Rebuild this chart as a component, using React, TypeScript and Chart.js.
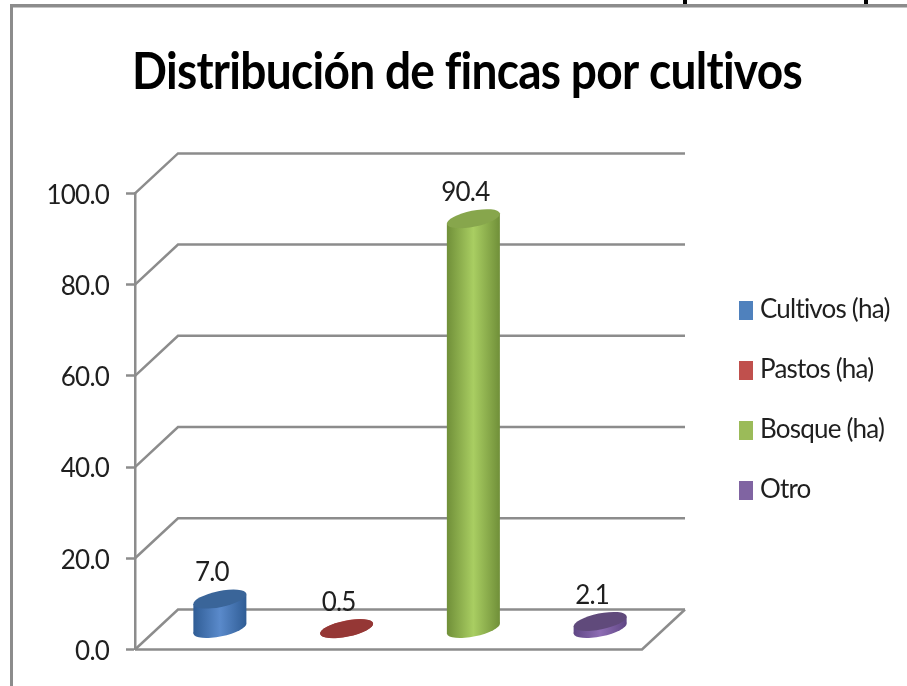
import React, { useEffect, useRef } from "react";
import { Chart, registerables } from "chart.js";

Chart.register(...registerables);

const titleText = "Distribución de fincas por cultivos";
const categoryLabels = [""];
const seriesNames = ["Cultivos (ha)", "Pastos (ha)", "Bosque (ha)", "Otro"];
const cultivos = [7.0];
const pastos = [0.5];
const bosque = [90.4];
const otro = [2.1];
const seriesValues = [cultivos, pastos, bosque, otro];
const legendColors = ["#4F81BD", "#C0504D", "#9BBB59", "#8064A2"];
const edgeColors = ["#2F5C94", "#8E3330", "#6F8E38", "#5F4684"];
const midColors = ["#5A8ACB", "#C0504D", "#A9CE62", "#8E6DB4"];
const capColors = ["#3A6599", "#953735", "#87A64C", "#604A7B"];

const FONT = "Lato, 'Liberation Sans', sans-serif";
const TEXT_SIZE = 26;
const GRAY = "#8C8C8C";
const DEPTH_X = 43;
const DEPTH_Y = 40;
const RX = 27;
const RY = 8;
const ROT = -0.2;

function ellipse(ctx: CanvasRenderingContext2D, x: number, y: number) {
  ctx.beginPath();
  ctx.ellipse(x, y, RX, RY, ROT, 0, Math.PI * 2);
  ctx.fill();
}

const scene = {
  id: "scene",
  beforeDraw(chart: any) {
    const { ctx, width, height } = chart;
    ctx.save();
    ctx.fillStyle = "#fff";
    ctx.fillRect(0, 0, width, height);
    ctx.fillStyle = GRAY;
    ctx.fillRect(10, 4, width - 10, 3.5);
    ctx.fillRect(10, 4, 3, height - 4);
    ctx.fillStyle = "#000";
    ctx.fillRect(683, 0, 4, 4);
    ctx.fillRect(864, 0, 4, 4);
    ctx.restore();
    ctx.letterSpacing = "-0.8px";
  },
  afterLayout(chart: any) {
    const t = chart.titleBlock;
    t.left = 132;
    t.right = 802;
    const l = chart.legend;
    const p = l.options.labels.padding;
    l.left = 745 - p;
    l.right = 930;
    l.top = 297 - p;
    l.bottom = 560;
  },
  beforeDatasetsDraw(chart: any) {
    const { ctx, chartArea, scales } = chart;
    const yS = scales.y;
    ctx.save();
    ctx.strokeStyle = GRAY;
    ctx.lineWidth = 2.5;
    yS.ticks.forEach((t: any, i: number) => {
      const y = yS.getPixelForTick(i);
      ctx.beginPath();
      ctx.moveTo(chartArea.left, y);
      ctx.lineTo(chartArea.left + DEPTH_X, y - DEPTH_Y);
      ctx.lineTo(chartArea.right + DEPTH_X, y - DEPTH_Y);
      ctx.stroke();
    });
    ctx.beginPath();
    ctx.moveTo(chartArea.left, chartArea.bottom);
    ctx.lineTo(chartArea.right, chartArea.bottom);
    ctx.lineTo(chartArea.right + DEPTH_X, chartArea.bottom - DEPTH_Y);
    ctx.stroke();
    ctx.restore();
  },
  beforeDatasetDraw(chart: any, args: any) {
    const { ctx } = chart;
    const i = args.index;
    const el = args.meta.data[0];
    const cx = el.x + DEPTH_X / 2;
    const baseY = el.base - 20.5;
    const topY = el.y - 18.5;
    const g = ctx.createLinearGradient(cx - RX, 0, cx + RX, 0);
    g.addColorStop(0, edgeColors[i]);
    g.addColorStop(0.5, midColors[i]);
    g.addColorStop(1, edgeColors[i]);
    const tx = Math.hypot(RX * Math.cos(ROT), RY * Math.sin(ROT));
    const t = Math.atan2(-RY * Math.sin(ROT), RX * Math.cos(ROT));
    const ty = RX * Math.cos(t) * Math.sin(ROT) + RY * Math.sin(t) * Math.cos(ROT);
    ctx.save();
    ctx.fillStyle = g;
    ellipse(ctx, cx, baseY);
    ctx.beginPath();
    ctx.moveTo(cx + tx, topY + ty);
    ctx.lineTo(cx + tx, baseY + ty);
    ctx.lineTo(cx - tx, baseY - ty);
    ctx.lineTo(cx - tx, topY - ty);
    ctx.closePath();
    ctx.fill();
    ctx.fillStyle = capColors[i];
    ellipse(ctx, cx, topY);
    ctx.fillStyle = "#1f1f1f";
    ctx.font = `${TEXT_SIZE}px ${FONT}`;
    ctx.textAlign = "center";
    ctx.textBaseline = "middle";
    ctx.fillText(seriesValues[i][0].toFixed(1), cx - 8, topY - 26);
    ctx.restore();
    return false;
  },
};

export default function App() {
  const ref = useRef<HTMLCanvasElement>(null);
  useEffect(() => {
    const chart = new Chart(ref.current as HTMLCanvasElement, {
      type: "bar",
      data: {
        labels: categoryLabels,
        datasets: seriesNames.map((name, i) => ({
          label: name,
          data: seriesValues[i],
          backgroundColor: legendColors[i],
          barPercentage: 1,
          categoryPercentage: 1,
        })),
      },
      options: {
        responsive: false,
        animation: false,
        layout: { padding: { left: 0, top: 0, right: 265, bottom: 36.5 } },
        scales: {
          x: { display: false },
          y: {
            min: 0,
            max: 100,
            afterFit(s: any) {
              s.width = 135;
            },
            ticks: {
              stepSize: 20,
              padding: 17,
              labelOffset: 2,
              color: "#1f1f1f",
              font: { family: FONT, size: TEXT_SIZE },
              callback: (v: any) => Number(v).toFixed(1),
            },
            border: { display: true, color: GRAY, width: 2.5 },
            grid: { drawOnChartArea: false, drawTicks: true, tickLength: 9, tickColor: GRAY, tickWidth: 2.5 },
          },
        },
        plugins: {
          tooltip: { enabled: false },
          title: {
            display: true,
            text: titleText,
            color: "#000",
            font: { family: FONT, size: 52, weight: "bold", lineHeight: 1.2 },
            padding: { top: 41, bottom: 90 },
          },
          legend: {
            display: true,
            position: "chartArea",
            align: "start",
            labels: {
              usePointStyle: true,
              pointStyleWidth: 2,
              padding: 34,
              color: "#1f1f1f",
              font: { family: FONT, size: TEXT_SIZE, lineHeight: 1 },
              generateLabels(c: any) {
                const items = Chart.defaults.plugins.legend.labels.generateLabels(c);
                items.forEach((it: any, i: number) => {
                  const sw = document.createElement("canvas");
                  sw.width = 14;
                  sw.height = 19;
                  const sc = sw.getContext("2d") as CanvasRenderingContext2D;
                  sc.fillStyle = legendColors[i];
                  sc.fillRect(0, 0, 14, 19);
                  it.pointStyle = sw;
                });
                return items;
              },
            },
          },
        },
      } as any,
      plugins: [scene],
    });
    return () => chart.destroy();
  }, []);
  return (
    <canvas
      ref={ref}
      width={907}
      height={686}
      style={{ position: "absolute", left: 0, top: 0, display: "block" }}
    />
  );
}
